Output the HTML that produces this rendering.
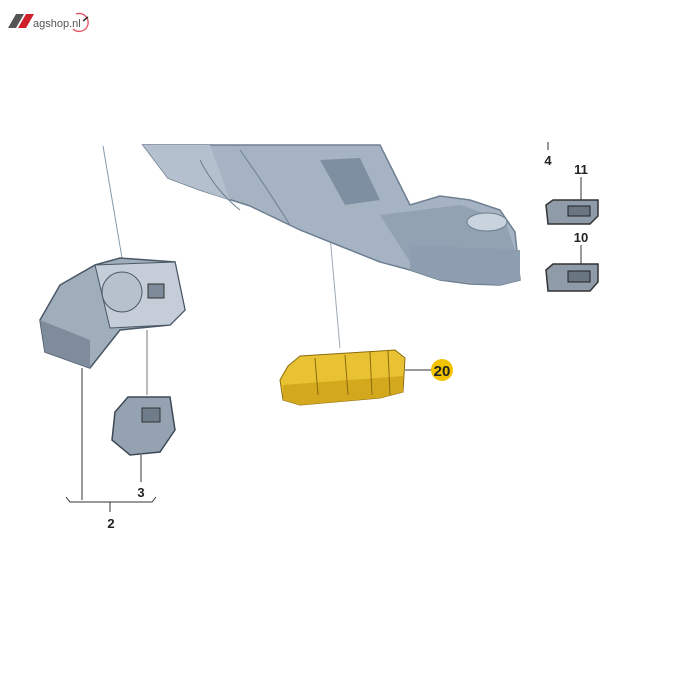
<!DOCTYPE html>
<html><head><meta charset="utf-8"><style>
html,body{margin:0;padding:0;background:#fff;width:700px;height:700px;overflow:hidden}
svg{display:block}
text{font-family:"Liberation Sans",sans-serif}
</style></head><body>
<svg width="700" height="700" viewBox="0 0 700 700">
<!-- logo -->
<polygon points="8,28 16,14 24,14 16,28" fill="#555"/>
<polygon points="18,28 26,14 34,14 26,28" fill="#d0202a"/>
<text x="33" y="27" font-size="11" fill="#555">agshop.nl</text>
<path d="M76,14 A9,9 0 1 1 73,29" fill="none" stroke="#e05060" stroke-width="1.3"/>
<line x1="83" y1="21" x2="88" y2="17" stroke="#333" stroke-width="1.5"/>

<!-- leader lines -->
<line x1="103" y1="146" x2="122" y2="258" stroke="#8899aa" stroke-width="1"/>
<line x1="322" y1="146" x2="340" y2="348" stroke="#a0aab5" stroke-width="1"/>
<line x1="147" y1="330" x2="147" y2="395" stroke="#777" stroke-width="1"/>
<line x1="82" y1="368" x2="82" y2="500" stroke="#333" stroke-width="1"/>
<line x1="141" y1="455" x2="141" y2="482" stroke="#333" stroke-width="1"/>
<path d="M66,497 L70,502 L152,502 L156,497" fill="none" stroke="#333" stroke-width="1"/>
<line x1="110" y1="502" x2="110" y2="512" stroke="#333" stroke-width="1"/>
<line x1="548" y1="142" x2="548" y2="150" stroke="#333"/>
<line x1="581" y1="177" x2="581" y2="200" stroke="#333"/>
<line x1="581" y1="245" x2="581" y2="265" stroke="#333"/>
<line x1="405" y1="370" x2="432" y2="370" stroke="#333"/>

<!-- console -->
<polygon points="143,145 380,145 395,175 410,205 440,196 470,200 500,210 515,232 520,280 500,285 470,284 440,280 410,270 380,262 340,246 300,230 250,206 200,190 168,178" fill="#a6b3c2" stroke="#6e7f92" stroke-width="1.5"/>
<polygon points="143,145 210,145 230,200 200,190 168,178" fill="#b4c0cd"/>
<polygon points="320,160 360,158 380,200 345,205" fill="#7e8fa2"/>
<polygon points="380,215 460,205 505,220 515,250 410,262" fill="#93a2b3"/>
<ellipse cx="487" cy="222" rx="20" ry="9" fill="#c9d3dd" stroke="#6e7f92"/>
<polygon points="410,245 520,250 520,280 500,285 440,280 410,270" fill="#8e9db0"/>
<path d="M200,160 Q215,190 240,210 M240,150 Q265,185 290,225" stroke="#6e7f92" fill="none"/>

<!-- light switch -->
<polygon points="40,320 60,285 95,265 120,258 175,262 185,310 170,325 120,330 90,368 45,352" fill="#a0adbb" stroke="#4a5766" stroke-width="1.5"/>
<polygon points="95,265 175,262 185,310 170,325 110,328" fill="#c5ced8" stroke="#4a5766"/>
<circle cx="122" cy="292" r="20" fill="#b7c1cc" stroke="#4a5766"/>
<rect x="148" y="284" width="16" height="14" fill="#7f8b98" stroke="#333"/>
<polygon points="40,320 90,340 90,368 45,352" fill="#7e8c9c"/>

<!-- switch 3 -->
<polygon points="115,412 128,397 170,397 175,430 160,452 130,455 112,440" fill="#95a2b1" stroke="#3d4956" stroke-width="1.5"/>
<rect x="142" y="408" width="18" height="14" fill="#6f7c8a" stroke="#333"/>

<!-- part 20 -->
<polygon points="288,366 300,356 395,350 405,358 403,392 380,398 300,405 283,400 280,380" fill="#e8c232" stroke="#8a6a10" stroke-width="1"/>
<polygon points="283,385 403,376 403,392 380,398 300,405 283,400" fill="#d3a81c"/>
<path d="M315,358 L318,395 M345,355 L348,395 M370,352 L372,395 M388,351 L390,395" stroke="#8a6a10" fill="none"/>
<circle cx="442" cy="370" r="11" fill="#f2c400"/>
<text x="442" y="376" font-size="15" font-weight="bold" text-anchor="middle" fill="#222">20</text>

<!-- switches 10/11 -->
<polygon points="546,205 553,200 598,200 598,216 590,224 548,224" fill="#8f9ba8" stroke="#333" stroke-width="1.5"/>
<rect x="568" y="206" width="22" height="10" fill="#6a7582" stroke="#222"/>
<polygon points="546,270 553,264 598,264 598,282 590,291 548,291" fill="#8f9ba8" stroke="#333" stroke-width="1.5"/>
<rect x="568" y="271" width="22" height="11" fill="#6a7582" stroke="#222"/>

<!-- labels -->
<g font-size="13" font-weight="bold" fill="#222" text-anchor="middle">
<text x="548" y="165">4</text>
<text x="581" y="174">11</text>
<text x="581" y="242">10</text>
<text x="141" y="497">3</text>
<text x="111" y="528">2</text>
</g>
</svg>
</body></html>
